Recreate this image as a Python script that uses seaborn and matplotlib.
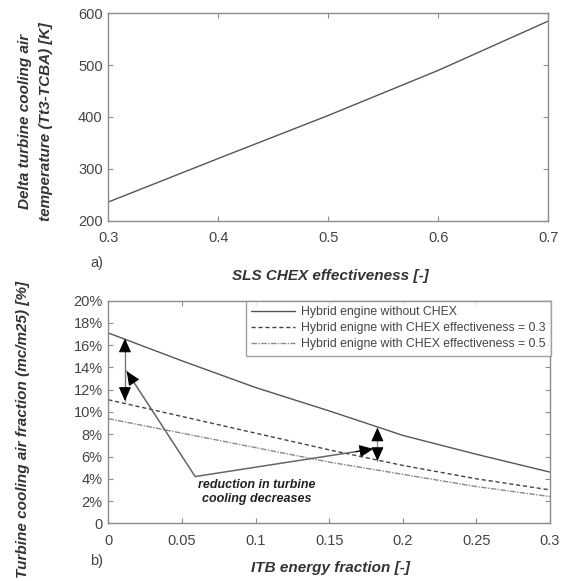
import matplotlib
matplotlib.use("Agg")
import matplotlib.pyplot as plt
import seaborn as sns
import numpy as np
import pandas as pd
from matplotlib.ticker import FuncFormatter

# ---------------- data ----------------
# top panel
chex_eff = [0.3, 0.4, 0.5, 0.6, 0.7]
delta_temp = [236, 320, 403, 490, 585]

# bottom panel
itb_frac = [0.0, 0.05, 0.1, 0.15, 0.2, 0.25, 0.3]
no_chex = [17.1, 14.6, 12.2, 10.1, 7.9, 6.2, 4.6]
chex_03 = [11.1, 9.6, 8.1, 6.6, 5.2, 4.0, 3.0]
chex_05 = [9.4, 8.1, 6.8, 5.5, 4.4, 3.3, 2.4]
series_labels = ["Hybrid engine without CHEX",
                 "Hybrid enigne with CHEX effectiveness = 0.3",
                 "Hybrid enigne with CHEX effectiveness = 0.5"]

top_xticks = [0.3, 0.4, 0.5, 0.6, 0.7]
top_yticks = [200, 300, 400, 500, 600]
bot_xticks = [0, 0.05, 0.1, 0.15, 0.2, 0.25, 0.3]
bot_yticks = [0, 2, 4, 6, 8, 10, 12, 14, 16, 18, 20]

# annotation geometry (data coords)
darrow1_x = [0.0113, 0.0113]
darrow1_y = [16.6, 11.0]
darrow2_x = [0.1828, 0.1828]
darrow2_y = [8.6, 5.6]
vpath_x = [0.0125, 0.059, 0.180]
vpath_y = [13.66, 4.2, 6.68]
note_text = "reduction in turbine\ncooling decreases"
note_xy = (0.101, 2.82)

# ---------------- style ----------------
sns.set_style("ticks")
plt.rcParams['font.family'] = ['Liberation Sans', 'DejaVu Sans']

spine_c = "#8c8c8c"
tick_c = "#444444"
label_c = "#333333"

fig = plt.figure(figsize=(5.65, 5.81), dpi=100)
W, H = 565.0, 581.0
ax1 = fig.add_axes([108.3 / W, 1 - 220.7 / H, 440.0 / W, 207.4 / H])
ax2 = fig.add_axes([108.3 / W, 1 - 523.3 / H, 441.7 / W, 222.6 / H])


def style_axes(ax):
    for s in ax.spines.values():
        s.set_color(spine_c)
        s.set_linewidth(1.0)
        s.set_visible(True)
    ax.tick_params(direction="in", length=3.5, width=0.8, color=spine_c,
                   labelcolor=tick_c, labelsize=10.5, top=True, right=True)
    ax.tick_params(axis="x", pad=7.5)
    ax.tick_params(axis="y", pad=4)
    ax.grid(False)


# ---------------- top panel ----------------
df_top = pd.DataFrame({"eff": chex_eff, "dT": delta_temp})
sns.lineplot(data=df_top, x="eff", y="dT", ax=ax1, color="#555555",
             linewidth=1.0)
ax1.set_xlim(0.3, 0.7)
ax1.set_ylim(200, 600)
ax1.set_xticks(top_xticks)
ax1.set_yticks(top_yticks)
ax1.set_xticklabels([f"{v:g}" for v in top_xticks])
style_axes(ax1)
ax1.set_xlabel("SLS CHEX effectiveness [-]", fontsize=11, fontweight="bold",
               fontstyle="italic", color=label_c)
ax1.xaxis.set_label_coords(0.504, -0.235)
ax1.xaxis.label.set_va("top")
ax1.set_ylabel("Delta turbine cooling air\ntemperature (Tt3-TCBA) [K]",
               fontsize=11, fontweight="bold", fontstyle="italic",
               color=label_c, linespacing=1.6)
ax1.yaxis.set_label_coords(-0.166, 0.48)
ax1.yaxis.label.set_va("center")
ax1.text(-0.026, -0.205, "a)", transform=ax1.transAxes, fontsize=10.5,
         color=tick_c, ha="center", va="center")

# ---------------- bottom panel ----------------
df_bot = pd.DataFrame({"itb": itb_frac * 3,
                       "frac": no_chex + chex_03 + chex_05,
                       "series": [series_labels[0]] * len(itb_frac)
                       + [series_labels[1]] * len(itb_frac)
                       + [series_labels[2]] * len(itb_frac)})
palette = {series_labels[0]: "#555555", series_labels[1]: "#444444",
           series_labels[2]: "#8a8a8a"}
dashes = {series_labels[0]: "", series_labels[1]: (3, 2),
          series_labels[2]: (4, 1, 1, 1)}
sns.lineplot(data=df_bot, x="itb", y="frac", hue="series", style="series",
             palette=palette, dashes=dashes, ax=ax2, linewidth=1.0)
ax2.set_xlim(0, 0.3)
ax2.set_ylim(0, 20)
ax2.set_xticks(bot_xticks)
ax2.set_yticks(bot_yticks)
ax2.set_xticklabels([f"{v:g}" for v in bot_xticks])
ax2.yaxis.set_major_formatter(FuncFormatter(lambda v, p: "0" if v == 0 else f"{v:g}%"))
style_axes(ax2)

leg = ax2.legend(loc="upper right", bbox_to_anchor=(1.003, 1.0),
                 borderaxespad=0, fontsize=8.8, frameon=True, fancybox=False,
                 handlelength=3.6, handletextpad=0.5, labelspacing=0.32,
                 borderpad=0.45)
leg.get_frame().set_edgecolor(spine_c)
leg.get_frame().set_linewidth(1.0)
for t in leg.get_texts():
    t.set_color(tick_c)

ax2.set_xlabel("ITB energy fraction [-]", fontsize=11, fontweight="bold",
               fontstyle="italic", color=label_c)
ax2.xaxis.set_label_coords(0.504, -0.2)
ax2.xaxis.label.set_va("center")
ax2.set_ylabel("Turbine cooling air fraction (mc/m25) [%]", fontsize=11,
               fontweight="bold", fontstyle="italic", color=label_c)
ax2.yaxis.set_label_coords(-0.193, 0.42)
ax2.yaxis.label.set_va("center")
ax2.text(-0.026, -0.17, "b)", transform=ax2.transAxes, fontsize=10.5,
         color=tick_c, ha="center", va="center")

# annotations: gray shafts, black heads
head = dict(color="black", lw=0.8, mutation_scale=10, shrinkA=0, shrinkB=0)
hstyle = "-|>,head_length=0.85,head_width=0.38"


def heads(xs, ys):
    """Draw arrowheads at both ends of a polyline."""
    for (tx, ty), (sx, sy) in [((xs[0], ys[0]), (xs[1], ys[1])),
                               ((xs[-1], ys[-1]), (xs[-2], ys[-2]))]:
        fx = tx + (sx - tx) * 0.1
        fy = ty + (sy - ty) * 0.1
        ax2.annotate("", xy=(tx, ty), xytext=(fx, fy),
                     arrowprops=dict(arrowstyle=hstyle, **head))


ax2.plot(darrow1_x, darrow1_y, color="#777777", lw=1.0)
heads(darrow1_x, darrow1_y)
ax2.plot(darrow2_x, darrow2_y, color="#999999", lw=1.0)
heads(darrow2_x, darrow2_y)
ax2.plot(vpath_x, vpath_y, color="#666666", lw=1.1)
heads(vpath_x, vpath_y)

ax2.text(note_xy[0], note_xy[1], note_text, fontsize=9, fontweight="bold",
         fontstyle="italic", color="#222222", ha="center", va="center",
         linespacing=1.3)

fig.savefig("out.png", dpi=100)
